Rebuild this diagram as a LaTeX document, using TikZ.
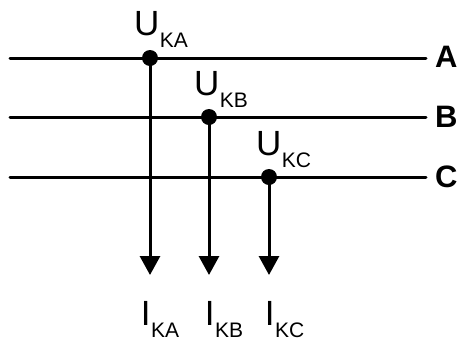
\documentclass[tikz,border=0pt]{standalone}
\usepackage{fontspec}
\setmainfont{Liberation Sans}
\usetikzlibrary{arrows.meta}

\newcommand{\lbl}[2]{\fontsize{35}{35}\selectfont #1\kern0.5pt\raisebox{-12pt}{\fontsize{21}{21}\selectfont #2}}

\begin{document}
\begin{tikzpicture}[x=1pt,y=-1pt,
	busline/.style={line width=3pt,line cap=round},
	feed/.style={line width=3pt,-{Triangle[width=20pt,length=19pt]}},
	dot/.style={circle,fill=black,inner sep=0pt,minimum size=16pt},
	lab/.style={inner sep=0pt,anchor=base west},
	busname/.style={inner sep=0pt,anchor=base west,font=\bfseries\fontsize{31}{31}\selectfont}]
\useasboundingbox (0,0) rectangle (458,341);
\node[busname](na) at (435,67){A};
\node[busname](nb) at (435,127){B};
\node[busname](nc) at (435,187){C};
\coordinate(a0) at (10,58);
\coordinate(b0) at (10,117);
\coordinate(c0) at (10,177);
\coordinate(a1) at (426,58);
\coordinate(b1) at (426,117);
\coordinate(c1) at (426,177);
\draw[busline](a0) -- (a1);
\draw[busline](b0) -- (b1);
\draw[busline](c0) -- (c1);
\node[dot](ka) at (150,58){};
\node[dot](kb) at (209,117){};
\node[dot](kc) at (269,177){};
\coordinate(ea) at (150,275);
\coordinate(eb) at (209,275);
\coordinate(ec) at (269,275);
\draw[feed](ka.center) -- (ea);
\draw[feed](kb.center) -- (eb);
\draw[feed](kc.center) -- (ec);
\node[lab](uka) at (134,35){\lbl{U}{KA}};
\node[lab](ukb) at (194,95){\lbl{U}{KB}};
\node[lab](ukc) at (256,155){\lbl{U}{KC}};
\node[lab](ika) at (140.7,325){\lbl{I}{KA}};
\node[lab](ikb) at (204.7,325){\lbl{I}{KB}};
\node[lab](ikc) at (264.7,325){\lbl{I}{KC}};
\end{tikzpicture}
\end{document}
